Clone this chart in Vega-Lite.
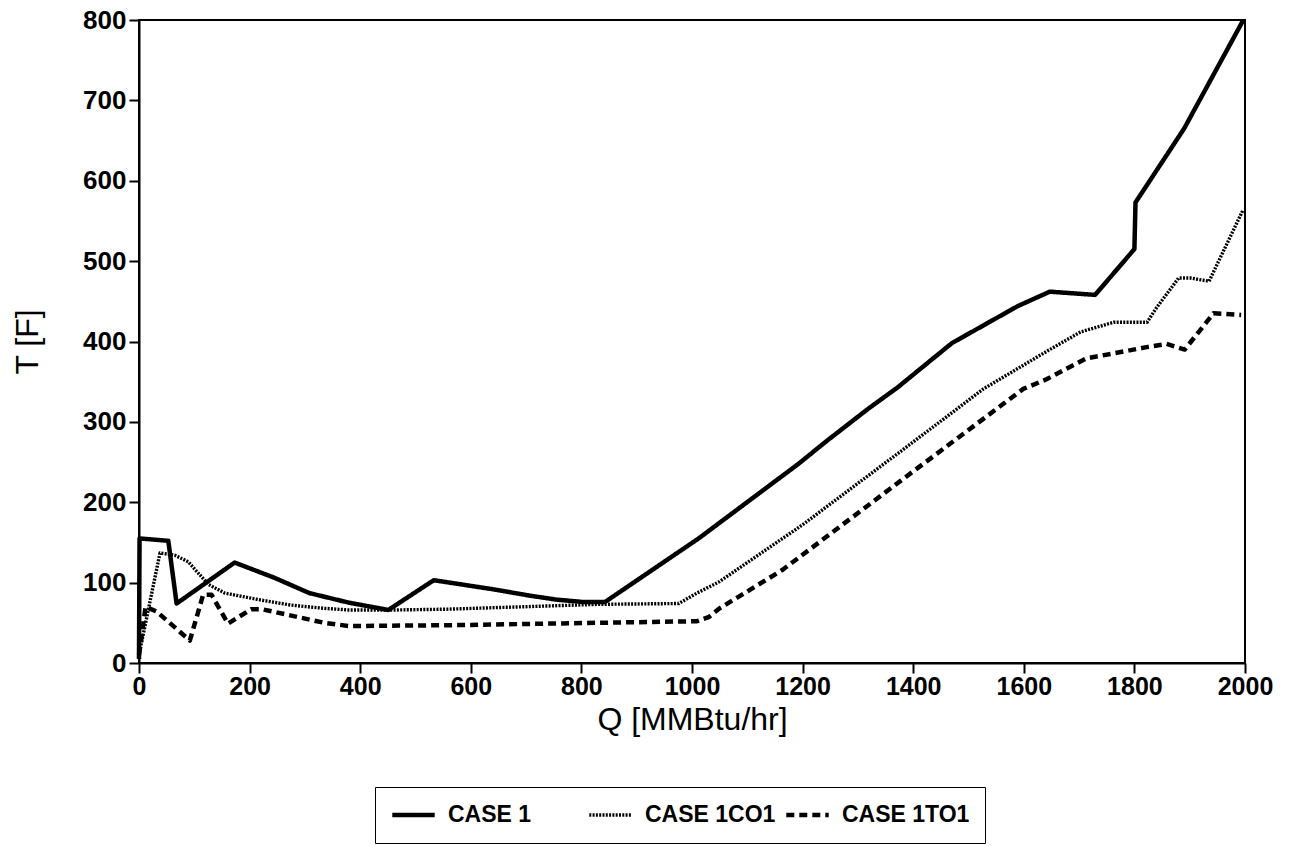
{
  "$schema": "https://vega.github.io/schema/vega-lite/v6.json",
  "width": 1106,
  "height": 643,
  "autosize": "none",
  "padding": {"left": 139, "top": 20, "right": 45, "bottom": 183},
  "background": "white",
  "config": {
    "font": "Liberation Sans",
    "view": {"stroke": "black", "strokeWidth": 2}
  },
  "datasets": {
    "curves": [
      {"case": "CASE 1", "i": 1, "Q": 0, "T": 5},
      {"case": "CASE 1", "i": 2, "Q": 1, "T": 155},
      {"case": "CASE 1", "i": 3, "Q": 53, "T": 152},
      {"case": "CASE 1", "i": 4, "Q": 68, "T": 74},
      {"case": "CASE 1", "i": 5, "Q": 173, "T": 125},
      {"case": "CASE 1", "i": 6, "Q": 245, "T": 106},
      {"case": "CASE 1", "i": 7, "Q": 308, "T": 87},
      {"case": "CASE 1", "i": 8, "Q": 380, "T": 75},
      {"case": "CASE 1", "i": 9, "Q": 451, "T": 66},
      {"case": "CASE 1", "i": 10, "Q": 533, "T": 103},
      {"case": "CASE 1", "i": 11, "Q": 638, "T": 92},
      {"case": "CASE 1", "i": 12, "Q": 705, "T": 84},
      {"case": "CASE 1", "i": 13, "Q": 753, "T": 79},
      {"case": "CASE 1", "i": 14, "Q": 801, "T": 76},
      {"case": "CASE 1", "i": 15, "Q": 843, "T": 76},
      {"case": "CASE 1", "i": 16, "Q": 1012, "T": 155},
      {"case": "CASE 1", "i": 17, "Q": 1191, "T": 247},
      {"case": "CASE 1", "i": 18, "Q": 1245, "T": 277},
      {"case": "CASE 1", "i": 19, "Q": 1318, "T": 316},
      {"case": "CASE 1", "i": 20, "Q": 1372, "T": 343},
      {"case": "CASE 1", "i": 21, "Q": 1470, "T": 398},
      {"case": "CASE 1", "i": 22, "Q": 1589, "T": 444},
      {"case": "CASE 1", "i": 23, "Q": 1647, "T": 462},
      {"case": "CASE 1", "i": 24, "Q": 1729, "T": 458},
      {"case": "CASE 1", "i": 25, "Q": 1800, "T": 515},
      {"case": "CASE 1", "i": 26, "Q": 1802, "T": 573},
      {"case": "CASE 1", "i": 27, "Q": 1890, "T": 665},
      {"case": "CASE 1", "i": 28, "Q": 1997, "T": 800},

      {"case": "CASE 1CO1", "i": 1, "Q": 0, "T": 10},
      {"case": "CASE 1CO1", "i": 2, "Q": 38, "T": 137},
      {"case": "CASE 1CO1", "i": 3, "Q": 65, "T": 134},
      {"case": "CASE 1CO1", "i": 4, "Q": 89, "T": 126},
      {"case": "CASE 1CO1", "i": 5, "Q": 125, "T": 98},
      {"case": "CASE 1CO1", "i": 6, "Q": 155, "T": 87},
      {"case": "CASE 1CO1", "i": 7, "Q": 215, "T": 79},
      {"case": "CASE 1CO1", "i": 8, "Q": 275, "T": 72},
      {"case": "CASE 1CO1", "i": 9, "Q": 335, "T": 68},
      {"case": "CASE 1CO1", "i": 10, "Q": 379, "T": 66},
      {"case": "CASE 1CO1", "i": 11, "Q": 464, "T": 66},
      {"case": "CASE 1CO1", "i": 12, "Q": 560, "T": 67},
      {"case": "CASE 1CO1", "i": 13, "Q": 741, "T": 71},
      {"case": "CASE 1CO1", "i": 14, "Q": 831, "T": 73},
      {"case": "CASE 1CO1", "i": 15, "Q": 976, "T": 74},
      {"case": "CASE 1CO1", "i": 16, "Q": 1009, "T": 87},
      {"case": "CASE 1CO1", "i": 17, "Q": 1049, "T": 101},
      {"case": "CASE 1CO1", "i": 18, "Q": 1200, "T": 172},
      {"case": "CASE 1CO1", "i": 19, "Q": 1400, "T": 275},
      {"case": "CASE 1CO1", "i": 20, "Q": 1527, "T": 341},
      {"case": "CASE 1CO1", "i": 21, "Q": 1642, "T": 388},
      {"case": "CASE 1CO1", "i": 22, "Q": 1703, "T": 412},
      {"case": "CASE 1CO1", "i": 23, "Q": 1763, "T": 424},
      {"case": "CASE 1CO1", "i": 24, "Q": 1823, "T": 424},
      {"case": "CASE 1CO1", "i": 25, "Q": 1840, "T": 442},
      {"case": "CASE 1CO1", "i": 26, "Q": 1880, "T": 479},
      {"case": "CASE 1CO1", "i": 27, "Q": 1901, "T": 479},
      {"case": "CASE 1CO1", "i": 28, "Q": 1935, "T": 475},
      {"case": "CASE 1CO1", "i": 29, "Q": 1996, "T": 563},

      {"case": "CASE 1TO1", "i": 1, "Q": 0, "T": 10},
      {"case": "CASE 1TO1", "i": 2, "Q": 12, "T": 70},
      {"case": "CASE 1TO1", "i": 3, "Q": 32, "T": 64},
      {"case": "CASE 1TO1", "i": 4, "Q": 92, "T": 28},
      {"case": "CASE 1TO1", "i": 5, "Q": 116, "T": 85},
      {"case": "CASE 1TO1", "i": 6, "Q": 131, "T": 85},
      {"case": "CASE 1TO1", "i": 7, "Q": 161, "T": 49},
      {"case": "CASE 1TO1", "i": 8, "Q": 203, "T": 67},
      {"case": "CASE 1TO1", "i": 9, "Q": 222, "T": 67},
      {"case": "CASE 1TO1", "i": 10, "Q": 335, "T": 50},
      {"case": "CASE 1TO1", "i": 11, "Q": 380, "T": 46},
      {"case": "CASE 1TO1", "i": 12, "Q": 560, "T": 47},
      {"case": "CASE 1TO1", "i": 13, "Q": 741, "T": 49},
      {"case": "CASE 1TO1", "i": 14, "Q": 1009, "T": 52},
      {"case": "CASE 1TO1", "i": 15, "Q": 1030, "T": 57},
      {"case": "CASE 1TO1", "i": 16, "Q": 1050, "T": 68},
      {"case": "CASE 1TO1", "i": 17, "Q": 1164, "T": 116},
      {"case": "CASE 1TO1", "i": 18, "Q": 1376, "T": 226},
      {"case": "CASE 1TO1", "i": 19, "Q": 1599, "T": 341},
      {"case": "CASE 1TO1", "i": 20, "Q": 1641, "T": 353},
      {"case": "CASE 1TO1", "i": 21, "Q": 1713, "T": 379},
      {"case": "CASE 1TO1", "i": 22, "Q": 1761, "T": 385},
      {"case": "CASE 1TO1", "i": 23, "Q": 1822, "T": 393},
      {"case": "CASE 1TO1", "i": 24, "Q": 1858, "T": 397},
      {"case": "CASE 1TO1", "i": 25, "Q": 1891, "T": 390},
      {"case": "CASE 1TO1", "i": 26, "Q": 1943, "T": 435},
      {"case": "CASE 1TO1", "i": 27, "Q": 1993, "T": 433}
    ]
  },
  "data": {"name": "curves"},
  "mark": {"type": "line", "color": "black", "strokeJoin": "round"},
  "encoding": {
    "x": {
      "field": "Q",
      "type": "quantitative",
      "scale": {"domain": [0, 2000], "nice": false, "zero": false},
      "axis": {
        "title": "Q [MMBtu/hr]",
        "format": "d",
        "values": [0, 200, 400, 600, 800, 1000, 1200, 1400, 1600, 1800, 2000],
        "grid": false,
        "domainColor": "black",
        "domainWidth": 2,
        "tickColor": "black",
        "tickWidth": 2,
        "tickSize": 10,
        "labelColor": "black",
        "labelFontSize": 25,
        "labelFontWeight": "bold",
        "labelPadding": 1,
        "labelFlush": false,
        "titleColor": "black",
        "titleFontSize": 32,
        "titleFontWeight": "normal",
        "titlePadding": 5
      }
    },
    "y": {
      "field": "T",
      "type": "quantitative",
      "scale": {"domain": [0, 800], "nice": false, "zero": true},
      "axis": {
        "title": "T [F]",
        "format": "d",
        "values": [0, 100, 200, 300, 400, 500, 600, 700, 800],
        "grid": false,
        "domainColor": "black",
        "domainWidth": 2,
        "tickColor": "black",
        "tickWidth": 2,
        "tickSize": 10,
        "labelColor": "black",
        "labelFontSize": 26,
        "labelFontWeight": "bold",
        "labelPadding": 3,
        "labelFlush": false,
        "titleColor": "black",
        "titleFontSize": 32,
        "titleFontWeight": "normal",
        "titlePadding": 38
      }
    },
    "strokeDash": {
      "field": "case",
      "type": "nominal",
      "scale": {"domain": ["CASE 1", "CASE 1CO1", "CASE 1TO1"], "range": [[1, 0], [2, 1.3], [8, 5]]},
      "legend": {
        "title": null,
        "orient": "none",
        "legendX": 236,
        "legendY": 767,
        "direction": "horizontal",
        "columns": 3,
        "gridAlign": "all",
        "columnPadding": 8,
        "padding": 15,
        "clipHeight": 26,
        "strokeColor": "black",
        "fillColor": "white",
        "symbolType": "stroke",
        "symbolSize": 1800,
        "symbolStrokeColor": "black",
        "labelFontSize": 23,
        "labelFontWeight": "bold",
        "labelColor": "black",
        "labelOffset": 11,
        "labelLimit": 300
      }
    },
    "strokeWidth": {
      "field": "case",
      "type": "nominal",
      "scale": {"type": "ordinal", "domain": ["CASE 1", "CASE 1CO1", "CASE 1TO1"], "range": [4.5, 3.4, 4.5]},
      "legend": null
    },
    "order": {"field": "i", "type": "quantitative"}
  }
}
